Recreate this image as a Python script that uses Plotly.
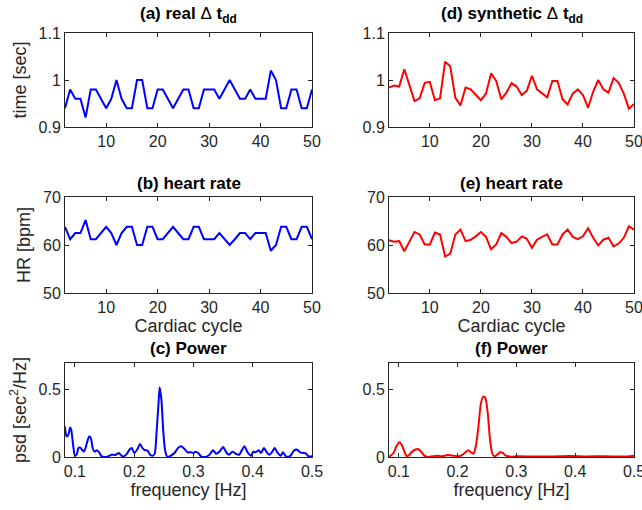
import plotly.graph_objects as go

# ---------------- data ----------------
cycle = list(range(2, 51))

real_dt = [0.94, 0.98, 0.96, 0.96, 0.92, 0.98, 0.98, 0.96, 0.94, 0.96,
           1.00, 0.96, 0.94, 0.94, 1.00, 1.00, 0.94, 0.94, 0.98, 0.98,
           0.96, 0.94, 0.96, 0.98, 0.98, 0.94, 0.94, 0.98, 0.98, 0.98,
           0.96, 0.98, 1.00, 0.98, 0.96, 0.96, 0.98, 0.96, 0.96, 0.96,
           1.02, 1.00, 0.94, 0.94, 0.98, 0.98, 0.94, 0.94, 0.98]

real_hr = [63.8, 61.2, 62.5, 62.5, 65.2, 61.2, 61.2, 62.5, 63.8, 62.5,
           60.0, 62.5, 63.8, 63.8, 60.0, 60.0, 63.8, 63.8, 61.2, 61.2,
           62.5, 63.8, 62.5, 61.2, 61.2, 63.8, 63.8, 61.2, 61.2, 61.2,
           62.5, 61.2, 60.0, 61.2, 62.5, 62.5, 61.2, 62.5, 62.5, 62.5,
           58.8, 60.0, 63.8, 63.8, 61.2, 61.2, 63.8, 63.8, 61.2]

syn_dt = [0.984, 0.988, 0.986, 1.023, 0.989, 0.955, 0.961, 0.994, 0.996, 0.957,
          0.961, 1.039, 1.029, 0.962, 0.946, 0.984, 0.980, 0.969, 0.957, 0.971,
          1.014, 0.998, 0.959, 0.973, 0.993, 0.986, 0.968, 0.977, 1.009, 0.980,
          0.971, 0.963, 0.998, 0.998, 0.959, 0.948, 0.971, 0.980, 0.968, 0.941,
          0.975, 1.000, 0.980, 0.973, 1.004, 0.994, 0.971, 0.939, 0.949]

syn_hr = [61.0, 60.7, 60.8, 58.7, 60.7, 62.7, 62.2, 60.1, 60.1, 62.6,
          62.2, 57.6, 58.2, 62.2, 63.2, 60.8, 61.1, 61.8, 62.7, 61.7,
          59.1, 60.1, 62.5, 61.7, 60.4, 60.7, 61.8, 61.3, 59.4, 61.1,
          61.7, 62.2, 60.1, 60.1, 62.2, 63.2, 61.7, 61.2, 61.8, 63.5,
          61.5, 59.9, 61.1, 61.5, 59.7, 60.3, 61.5, 63.9, 63.2]

real_freq = [0.083, 0.086, 0.089, 0.092, 0.094, 0.097, 0.100, 0.103, 0.106, 0.109,
             0.112, 0.115, 0.118, 0.121, 0.124, 0.127, 0.130, 0.133, 0.137, 0.141,
             0.145, 0.150, 0.156, 0.162, 0.168, 0.174, 0.180, 0.186, 0.192, 0.196,
             0.200, 0.205, 0.210, 0.214, 0.218, 0.222, 0.227, 0.232, 0.235, 0.238,
             0.241, 0.243, 0.246, 0.249, 0.252, 0.256, 0.262, 0.268, 0.274, 0.279,
             0.285, 0.290, 0.296, 0.300, 0.304, 0.308, 0.313, 0.320, 0.327, 0.333,
             0.338, 0.344, 0.350, 0.356, 0.360, 0.366, 0.371, 0.377, 0.382, 0.386,
             0.392, 0.397, 0.401, 0.405, 0.410, 0.414, 0.419, 0.423, 0.428, 0.433,
             0.437, 0.442, 0.447, 0.451, 0.455, 0.460, 0.465, 0.470, 0.475, 0.480,
             0.485, 0.490, 0.494, 0.500]
real_psd = [0.228, 0.153, 0.166, 0.220, 0.200, 0.090, 0.010, 0.017, 0.067, 0.070,
            0.054, 0.040, 0.067, 0.116, 0.153, 0.140, 0.067, 0.040, 0.050, 0.035,
            0.005, 0.000, 0.005, 0.017, 0.015, 0.030, 0.005, 0.015, 0.054, 0.067,
            0.030, 0.054, 0.097, 0.067, 0.050, 0.050, 0.017, 0.010, 0.030, 0.200,
            0.390, 0.520, 0.425, 0.200, 0.054, 0.000, 0.010, 0.030, 0.067, 0.080,
            0.060, 0.035, 0.035, 0.030, 0.040, 0.030, 0.005, 0.000, 0.017, 0.050,
            0.025, 0.040, 0.074, 0.030, 0.017, 0.040, 0.025, 0.017, 0.054, 0.080,
            0.030, 0.010, 0.040, 0.035, 0.050, 0.030, 0.067, 0.040, 0.017, 0.040,
            0.067, 0.030, 0.010, 0.035, 0.010, 0.000, 0.017, 0.050, 0.054, 0.035,
            0.030, 0.025, 0.005, 0.005]

syn_freq = [0.0833, 0.091, 0.096, 0.101, 0.105, 0.110, 0.1135, 0.118, 0.1226, 0.1276,
            0.1327, 0.1378, 0.1434, 0.149, 0.1575, 0.166, 0.173, 0.183, 0.193, 0.203,
            0.208, 0.2134, 0.218, 0.223, 0.227, 0.231, 0.2355, 0.2393, 0.2433, 0.2472,
            0.2512, 0.2551, 0.259, 0.263, 0.2676, 0.272, 0.277, 0.282, 0.292, 0.301,
            0.330, 0.360, 0.390, 0.420, 0.450, 0.480, 0.500]
syn_psd = [0.000, 0.030, 0.080, 0.110, 0.090, 0.035, 0.005, 0.017, 0.040, 0.054,
           0.060, 0.040, 0.010, 0.000, 0.005, 0.010, 0.005, 0.015, 0.010, 0.005,
           0.017, 0.035, 0.050, 0.035, 0.025, 0.080, 0.228, 0.390, 0.450, 0.440,
           0.330, 0.130, 0.025, 0.005, 0.017, 0.035, 0.030, 0.010, 0.002, 0.005,
           0.004, 0.003, 0.007, 0.004, 0.006, 0.003, 0.010]

cycle_ticks = [10, 20, 30, 40, 50]
dt_ticks = [0.9, 1.0, 1.1]
dt_ticklabels = ["0.9", "1", "1.1"]
hr_ticks = [50, 60, 70]
freq_ticks = [0.1, 0.2, 0.3, 0.4, 0.5]
freq_ticklabels = ["0.1", "0.2", "0.3", "0.4", "0.5"]
psd_ticks = [0, 0.5]
psd_ticklabels = ["0", "0.5"]

titles = ["<b>(a) real </b>Δ<b> t<sub>dd</sub></b>",
          "<b>(d) synthetic </b>Δ<b> t<sub>dd</sub></b>",
          "<b>(b) heart rate</b>", "<b>(e) heart rate</b>",
          "<b>(c) Power</b>", "<b>(f) Power</b>"]

# ---------------- figure ----------------
W, H = 642, 510
FONT = "Liberation Sans, Arial, Helvetica, sans-serif"
TXT = "#262626"
BLUE = "#0000ff"
RED = "#ff0000"

xdom = {"L": [65 / W, 312 / W], "R": [389 / W, 634 / W]}
ydom = {0: [1 - 127 / H, 1 - 33 / H], 1: [1 - 293 / H, 1 - 197 / H], 2: [1 - 457 / H, 1 - 363 / H]}

fig = go.Figure()

panels = [
    (1, "L", 0, cycle, real_dt, BLUE, [2, 50], [0.9, 1.1], cycle_ticks, None, dt_ticks, dt_ticklabels, None, "time [sec]"),
    (2, "R", 0, cycle, syn_dt, RED, [2, 50], [0.9, 1.1], cycle_ticks, None, dt_ticks, dt_ticklabels, None, None),
    (3, "L", 1, cycle, real_hr, BLUE, [2, 50], [50, 70], cycle_ticks, None, hr_ticks, None, "Cardiac cycle", "HR [bpm]"),
    (4, "R", 1, cycle, syn_hr, RED, [2, 50], [50, 70], cycle_ticks, None, hr_ticks, None, "Cardiac cycle", None),
    (5, "L", 2, real_freq, real_psd, BLUE, [1 / 12, 0.5], [0, 0.7], freq_ticks, freq_ticklabels, psd_ticks, psd_ticklabels, "frequency [Hz]", "psd [sec<sup>2</sup>/Hz]"),
    (6, "R", 2, syn_freq, syn_psd, RED, [1 / 12, 0.5], [0, 0.7], freq_ticks, freq_ticklabels, psd_ticks, psd_ticklabels, "frequency [Hz]", None),
]

layout = {}
for (i, col, row, xs, ys, color, xr, yr, xt, xl, yt, yl, xtitle, ytitle) in panels:
    xa = "x" if i == 1 else f"x{i}"
    ya = "y" if i == 1 else f"y{i}"
    shape = "spline" if row == 2 else "linear"
    fig.add_trace(go.Scatter(x=xs, y=ys, mode="lines", xaxis=xa, yaxis=ya,
                             line=dict(color=color, width=2, shape=shape, smoothing=0.6),
                             showlegend=False, hoverinfo="skip"))
    common = dict(showline=True, linecolor=TXT, linewidth=1, mirror="ticks",
                  ticks="inside", ticklen=4, tickcolor=TXT, showgrid=False, zeroline=False,
                  tickfont=dict(family=FONT, size=16, color=TXT), automargin=False,
                  ticklabeloverflow="allow", fixedrange=True)
    xkw = dict(common, domain=xdom[col], range=xr, tickvals=xt, anchor=ya)
    if xl:
        xkw["ticktext"] = xl
    if xtitle:
        xkw["title"] = dict(text=xtitle, font=dict(family=FONT, size=18, color=TXT), standoff=4)
    ykw = dict(common, domain=ydom[row], range=yr, tickvals=yt, anchor=xa)
    if yl:
        ykw["ticktext"] = yl
    if ytitle:
        ykw["title"] = dict(text=ytitle, font=dict(family=FONT, size=18, color=TXT), standoff=7)
    layout["xaxis" if i == 1 else f"xaxis{i}"] = xkw
    layout["yaxis" if i == 1 else f"yaxis{i}"] = ykw

title_y = [15, 183, 348]
order = [(0, "L"), (0, "R"), (1, "L"), (1, "R"), (2, "L"), (2, "R")]
annotations = []
for t, (row, col) in zip(titles, order):
    xc = (xdom[col][0] + xdom[col][1]) / 2
    annotations.append(dict(text=t, x=xc, y=1 - title_y[row] / H, xref="paper", yref="paper",
                            xanchor="center", yanchor="middle", showarrow=False,
                            font=dict(family=FONT, size=17, color="#000000")))

fig.update_layout(width=W, height=H, margin=dict(l=0, r=0, t=0, b=0, autoexpand=False),
                  paper_bgcolor="white", plot_bgcolor="white",
                  annotations=annotations, **layout)

fig.write_html("out.html", config={"displayModeBar": False})
